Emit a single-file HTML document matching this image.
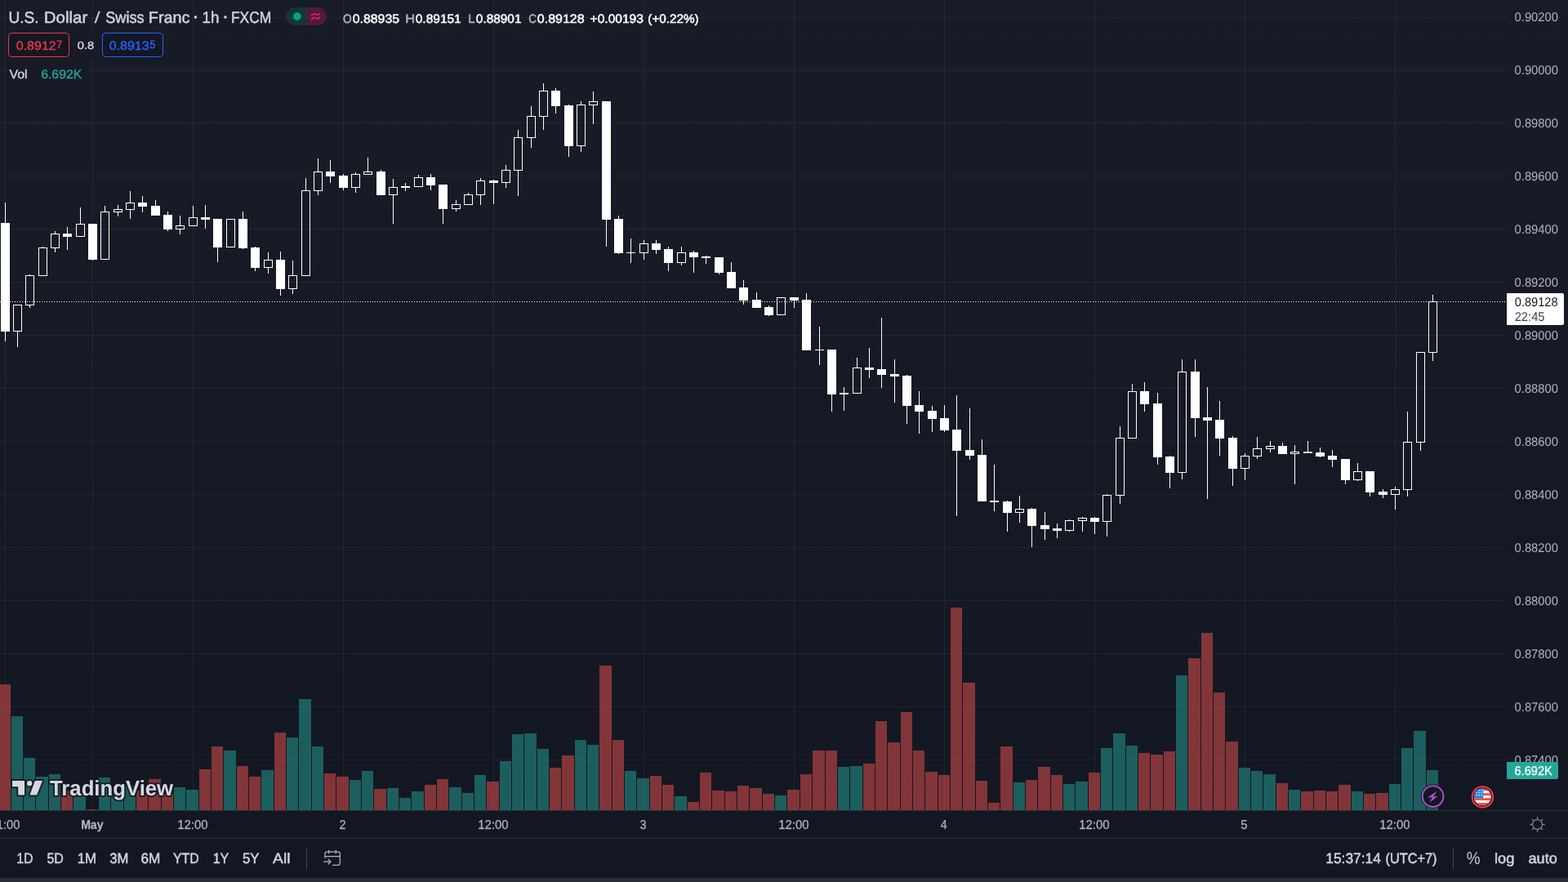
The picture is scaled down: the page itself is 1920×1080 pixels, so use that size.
<!DOCTYPE html>
<html lang="en"><head><meta charset="utf-8"><title>USDCHF 1h chart</title>
<style>
html,body{margin:0;padding:0;background:#131722;overflow:hidden}
body{width:1920px;height:1080px;font-family:'Liberation Sans', Arial, sans-serif}
svg{display:block;position:absolute;left:0;top:0}
text{font-family:'Liberation Sans', Arial, sans-serif;white-space:pre;text-rendering:geometricPrecision}
</style></head><body>
<svg width="1920" height="1080" viewBox="0 0 1920 1080">
<defs>
<linearGradient id="bg" x1="0" y1="0" x2="0" y2="1"><stop offset="0" stop-color="#181c27"/><stop offset="1" stop-color="#131722"/></linearGradient>
<clipPath id="flagclip"><circle cx="1815.4" cy="975.9" r="10.4"/></clipPath>
</defs>
<rect x="0" y="0" width="1920" height="1080" fill="#131722"/>
<rect x="0" y="0" width="1920" height="992" fill="url(#bg)"/>

<g shape-rendering="crispEdges" fill="rgb(240,243,250)" fill-opacity="0.06">
<rect x="6" y="0" width="1" height="992"/>
<rect x="113" y="0" width="1" height="992"/>
<rect x="236" y="0" width="1" height="992"/>
<rect x="420" y="0" width="1" height="992"/>
<rect x="604" y="0" width="1" height="992"/>
<rect x="788" y="0" width="1" height="992"/>
<rect x="972" y="0" width="1" height="992"/>
<rect x="1156" y="0" width="1" height="992"/>
<rect x="1340" y="0" width="1" height="992"/>
<rect x="1524" y="0" width="1" height="992"/>
<rect x="1708" y="0" width="1" height="992"/>
<rect x="0" y="21" width="1845" height="1"/>
<rect x="0" y="86" width="1845" height="1"/>
<rect x="0" y="150" width="1845" height="1"/>
<rect x="0" y="215" width="1845" height="1"/>
<rect x="0" y="280" width="1845" height="1"/>
<rect x="0" y="345" width="1845" height="1"/>
<rect x="0" y="410" width="1845" height="1"/>
<rect x="0" y="475" width="1845" height="1"/>
<rect x="0" y="540" width="1845" height="1"/>
<rect x="0" y="605" width="1845" height="1"/>
<rect x="0" y="670" width="1845" height="1"/>
<rect x="0" y="735" width="1845" height="1"/>
<rect x="0" y="800" width="1845" height="1"/>
<rect x="0" y="865" width="1845" height="1"/>
<rect x="0" y="930" width="1845" height="1"/>
</g>
<g shape-rendering="crispEdges" fill-opacity="0.5">
<rect x="0" y="838" width="13" height="154" fill="#ef5350"/>
<rect x="14" y="877" width="14" height="115" fill="#26a69a"/>
<rect x="29" y="928" width="14" height="64" fill="#26a69a"/>
<rect x="44" y="951" width="15" height="41" fill="#26a69a"/>
<rect x="60" y="948" width="14" height="44" fill="#26a69a"/>
<rect x="75" y="968" width="14" height="24" fill="#ef5350"/>
<rect x="90" y="974" width="15" height="18" fill="#26a69a"/>
<rect x="106" y="991" width="14" height="1" fill="#ef5350"/>
<rect x="121" y="952" width="14" height="40" fill="#26a69a"/>
<rect x="136" y="971" width="15" height="21" fill="#26a69a"/>
<rect x="152" y="962" width="14" height="30" fill="#26a69a"/>
<rect x="167" y="968" width="14" height="24" fill="#ef5350"/>
<rect x="182" y="954" width="15" height="38" fill="#ef5350"/>
<rect x="198" y="971" width="14" height="21" fill="#ef5350"/>
<rect x="213" y="964" width="14" height="28" fill="#26a69a"/>
<rect x="228" y="967" width="15" height="25" fill="#26a69a"/>
<rect x="244" y="942" width="14" height="50" fill="#ef5350"/>
<rect x="259" y="914" width="14" height="78" fill="#ef5350"/>
<rect x="274" y="919" width="15" height="73" fill="#26a69a"/>
<rect x="290" y="938" width="14" height="54" fill="#ef5350"/>
<rect x="305" y="951" width="14" height="41" fill="#ef5350"/>
<rect x="320" y="943" width="15" height="49" fill="#26a69a"/>
<rect x="336" y="897" width="14" height="95" fill="#ef5350"/>
<rect x="351" y="903" width="14" height="89" fill="#26a69a"/>
<rect x="366" y="856" width="15" height="136" fill="#26a69a"/>
<rect x="382" y="914" width="14" height="78" fill="#26a69a"/>
<rect x="397" y="947" width="14" height="45" fill="#ef5350"/>
<rect x="412" y="951" width="15" height="41" fill="#ef5350"/>
<rect x="428" y="955" width="14" height="37" fill="#26a69a"/>
<rect x="443" y="944" width="14" height="48" fill="#26a69a"/>
<rect x="458" y="966" width="15" height="26" fill="#ef5350"/>
<rect x="474" y="965" width="14" height="27" fill="#26a69a"/>
<rect x="489" y="977" width="14" height="15" fill="#26a69a"/>
<rect x="504" y="969" width="15" height="23" fill="#26a69a"/>
<rect x="520" y="961" width="14" height="31" fill="#ef5350"/>
<rect x="535" y="954" width="14" height="38" fill="#ef5350"/>
<rect x="550" y="964" width="15" height="28" fill="#26a69a"/>
<rect x="566" y="971" width="14" height="21" fill="#26a69a"/>
<rect x="581" y="949" width="14" height="43" fill="#26a69a"/>
<rect x="596" y="957" width="15" height="35" fill="#ef5350"/>
<rect x="612" y="932" width="14" height="60" fill="#26a69a"/>
<rect x="627" y="899" width="14" height="93" fill="#26a69a"/>
<rect x="642" y="898" width="15" height="94" fill="#26a69a"/>
<rect x="658" y="917" width="14" height="75" fill="#26a69a"/>
<rect x="673" y="940" width="14" height="52" fill="#ef5350"/>
<rect x="688" y="925" width="15" height="67" fill="#ef5350"/>
<rect x="704" y="906" width="14" height="86" fill="#26a69a"/>
<rect x="719" y="912" width="14" height="80" fill="#26a69a"/>
<rect x="734" y="815" width="15" height="177" fill="#ef5350"/>
<rect x="750" y="906" width="14" height="86" fill="#ef5350"/>
<rect x="765" y="944" width="14" height="48" fill="#26a69a"/>
<rect x="780" y="953" width="15" height="39" fill="#26a69a"/>
<rect x="796" y="950" width="14" height="42" fill="#ef5350"/>
<rect x="811" y="961" width="14" height="31" fill="#ef5350"/>
<rect x="826" y="975" width="15" height="17" fill="#26a69a"/>
<rect x="842" y="982" width="14" height="10" fill="#ef5350"/>
<rect x="857" y="946" width="14" height="46" fill="#ef5350"/>
<rect x="872" y="968" width="15" height="24" fill="#ef5350"/>
<rect x="888" y="969" width="14" height="23" fill="#ef5350"/>
<rect x="903" y="962" width="14" height="30" fill="#ef5350"/>
<rect x="918" y="965" width="15" height="27" fill="#ef5350"/>
<rect x="934" y="972" width="14" height="20" fill="#ef5350"/>
<rect x="949" y="974" width="14" height="18" fill="#26a69a"/>
<rect x="964" y="967" width="15" height="25" fill="#ef5350"/>
<rect x="980" y="948" width="14" height="44" fill="#ef5350"/>
<rect x="995" y="919" width="15" height="73" fill="#ef5350"/>
<rect x="1011" y="919" width="14" height="73" fill="#ef5350"/>
<rect x="1026" y="939" width="14" height="53" fill="#26a69a"/>
<rect x="1041" y="938" width="15" height="54" fill="#26a69a"/>
<rect x="1057" y="935" width="14" height="57" fill="#ef5350"/>
<rect x="1072" y="883" width="14" height="109" fill="#ef5350"/>
<rect x="1087" y="909" width="15" height="83" fill="#ef5350"/>
<rect x="1103" y="872" width="14" height="120" fill="#ef5350"/>
<rect x="1118" y="919" width="14" height="73" fill="#ef5350"/>
<rect x="1133" y="945" width="15" height="47" fill="#ef5350"/>
<rect x="1149" y="949" width="14" height="43" fill="#ef5350"/>
<rect x="1164" y="744" width="14" height="248" fill="#ef5350"/>
<rect x="1179" y="836" width="15" height="156" fill="#ef5350"/>
<rect x="1195" y="956" width="14" height="36" fill="#ef5350"/>
<rect x="1210" y="983" width="14" height="9" fill="#ef5350"/>
<rect x="1225" y="914" width="15" height="78" fill="#ef5350"/>
<rect x="1241" y="958" width="14" height="34" fill="#26a69a"/>
<rect x="1256" y="955" width="14" height="37" fill="#ef5350"/>
<rect x="1271" y="939" width="15" height="53" fill="#ef5350"/>
<rect x="1287" y="949" width="14" height="43" fill="#ef5350"/>
<rect x="1302" y="960" width="14" height="32" fill="#26a69a"/>
<rect x="1317" y="957" width="15" height="35" fill="#26a69a"/>
<rect x="1333" y="946" width="14" height="46" fill="#ef5350"/>
<rect x="1348" y="916" width="14" height="76" fill="#26a69a"/>
<rect x="1363" y="898" width="15" height="94" fill="#26a69a"/>
<rect x="1379" y="913" width="14" height="79" fill="#26a69a"/>
<rect x="1394" y="922" width="14" height="70" fill="#ef5350"/>
<rect x="1409" y="924" width="15" height="68" fill="#ef5350"/>
<rect x="1425" y="920" width="14" height="72" fill="#ef5350"/>
<rect x="1440" y="827" width="14" height="165" fill="#26a69a"/>
<rect x="1455" y="806" width="15" height="186" fill="#ef5350"/>
<rect x="1471" y="775" width="14" height="217" fill="#ef5350"/>
<rect x="1486" y="848" width="14" height="144" fill="#ef5350"/>
<rect x="1501" y="908" width="15" height="84" fill="#ef5350"/>
<rect x="1517" y="940" width="14" height="52" fill="#26a69a"/>
<rect x="1532" y="944" width="14" height="48" fill="#26a69a"/>
<rect x="1547" y="948" width="15" height="44" fill="#26a69a"/>
<rect x="1563" y="959" width="14" height="33" fill="#ef5350"/>
<rect x="1578" y="967" width="14" height="25" fill="#26a69a"/>
<rect x="1593" y="969" width="15" height="23" fill="#ef5350"/>
<rect x="1609" y="968" width="14" height="24" fill="#ef5350"/>
<rect x="1624" y="969" width="14" height="23" fill="#ef5350"/>
<rect x="1639" y="961" width="15" height="31" fill="#ef5350"/>
<rect x="1655" y="969" width="14" height="23" fill="#26a69a"/>
<rect x="1670" y="972" width="14" height="20" fill="#ef5350"/>
<rect x="1685" y="971" width="15" height="21" fill="#ef5350"/>
<rect x="1701" y="960" width="14" height="32" fill="#26a69a"/>
<rect x="1716" y="916" width="14" height="76" fill="#26a69a"/>
<rect x="1731" y="895" width="15" height="97" fill="#26a69a"/>
<rect x="1747" y="943" width="14" height="49" fill="#26a69a"/>
</g>
<line x1="0" y1="369.5" x2="1845" y2="369.5" stroke="#ffffff" stroke-width="1" stroke-dasharray="1 2" shape-rendering="crispEdges"/>
<g shape-rendering="crispEdges" fill="#ffffff">
<rect x="6" y="248" width="1" height="25"/>
<rect x="6" y="406" width="1" height="12"/>
<rect x="1" y="273" width="11" height="133"/>
<rect x="21" y="406" width="1" height="19"/>
<path d="M16 373h11v33h-11zM17 374v31h9v-31z" fill-rule="evenodd"/>
<rect x="36" y="336" width="1" height="1"/>
<rect x="36" y="374" width="1" height="3"/>
<path d="M31 337h11v37h-11zM32 338v35h9v-35z" fill-rule="evenodd"/>
<rect x="52" y="302" width="1" height="1"/>
<path d="M47 303h11v35h-11zM48 304v33h9v-33z" fill-rule="evenodd"/>
<rect x="67" y="283" width="1" height="3"/>
<rect x="67" y="304" width="1" height="5"/>
<path d="M62 286h11v18h-11zM63 287v16h9v-16z" fill-rule="evenodd"/>
<rect x="82" y="278" width="1" height="8"/>
<rect x="82" y="290" width="1" height="16"/>
<rect x="77" y="286" width="11" height="4"/>
<rect x="98" y="254" width="1" height="20"/>
<path d="M93 274h11v16h-11zM94 275v14h9v-14z" fill-rule="evenodd"/>
<rect x="113" y="318" width="1" height="1"/>
<rect x="108" y="274" width="11" height="44"/>
<rect x="128" y="252" width="1" height="7"/>
<path d="M123 259h11v59h-11zM124 260v57h9v-57z" fill-rule="evenodd"/>
<rect x="144" y="251" width="1" height="5"/>
<rect x="144" y="260" width="1" height="5"/>
<path d="M139 256h11v4h-11zM140 257v2h9v-2z" fill-rule="evenodd"/>
<rect x="159" y="234" width="1" height="14"/>
<rect x="159" y="257" width="1" height="11"/>
<path d="M154 248h11v9h-11zM155 249v7h9v-7z" fill-rule="evenodd"/>
<rect x="174" y="240" width="1" height="8"/>
<rect x="174" y="253" width="1" height="7"/>
<rect x="169" y="248" width="11" height="5"/>
<rect x="190" y="245" width="1" height="7"/>
<rect x="185" y="252" width="11" height="12"/>
<rect x="205" y="259" width="1" height="4"/>
<rect x="205" y="281" width="1" height="2"/>
<rect x="200" y="263" width="11" height="18"/>
<rect x="220" y="264" width="1" height="12"/>
<rect x="220" y="281" width="1" height="6"/>
<path d="M215 276h11v5h-11zM216 277v3h9v-3z" fill-rule="evenodd"/>
<rect x="236" y="252" width="1" height="14"/>
<path d="M231 266h11v11h-11zM232 267v9h9v-9z" fill-rule="evenodd"/>
<rect x="251" y="251" width="1" height="15"/>
<rect x="251" y="269" width="1" height="11"/>
<rect x="246" y="266" width="11" height="3"/>
<rect x="266" y="303" width="1" height="18"/>
<rect x="261" y="268" width="11" height="35"/>
<path d="M277 268h11v35h-11zM278 269v33h9v-33z" fill-rule="evenodd"/>
<rect x="297" y="259" width="1" height="9"/>
<rect x="297" y="304" width="1" height="1"/>
<rect x="292" y="268" width="11" height="36"/>
<rect x="312" y="302" width="1" height="1"/>
<rect x="312" y="328" width="1" height="4"/>
<rect x="307" y="303" width="11" height="25"/>
<rect x="328" y="309" width="1" height="9"/>
<rect x="328" y="328" width="1" height="7"/>
<path d="M323 318h11v10h-11zM324 319v8h9v-8z" fill-rule="evenodd"/>
<rect x="343" y="308" width="1" height="10"/>
<rect x="343" y="354" width="1" height="8"/>
<rect x="338" y="318" width="11" height="36"/>
<rect x="358" y="319" width="1" height="18"/>
<rect x="358" y="354" width="1" height="6"/>
<path d="M353 337h11v17h-11zM354 338v15h9v-15z" fill-rule="evenodd"/>
<rect x="374" y="218" width="1" height="15"/>
<path d="M369 233h11v105h-11zM370 234v103h9v-103z" fill-rule="evenodd"/>
<rect x="389" y="194" width="1" height="16"/>
<rect x="389" y="234" width="1" height="5"/>
<path d="M384 210h11v24h-11zM385 211v22h9v-22z" fill-rule="evenodd"/>
<rect x="404" y="196" width="1" height="14"/>
<rect x="404" y="216" width="1" height="8"/>
<rect x="399" y="210" width="11" height="6"/>
<rect x="420" y="213" width="1" height="2"/>
<rect x="420" y="230" width="1" height="3"/>
<rect x="415" y="215" width="11" height="15"/>
<rect x="435" y="211" width="1" height="2"/>
<rect x="435" y="230" width="1" height="6"/>
<path d="M430 213h11v17h-11zM431 214v15h9v-15z" fill-rule="evenodd"/>
<rect x="450" y="193" width="1" height="17"/>
<path d="M445 210h11v4h-11zM446 211v2h9v-2z" fill-rule="evenodd"/>
<rect x="466" y="208" width="1" height="2"/>
<rect x="461" y="210" width="11" height="29"/>
<rect x="481" y="219" width="1" height="10"/>
<rect x="481" y="239" width="1" height="35"/>
<path d="M476 229h11v10h-11zM477 230v8h9v-8z" fill-rule="evenodd"/>
<rect x="496" y="224" width="1" height="4"/>
<rect x="496" y="230" width="1" height="4"/>
<rect x="491" y="228" width="11" height="2"/>
<rect x="512" y="214" width="1" height="3"/>
<path d="M507 217h11v12h-11zM508 218v10h9v-10z" fill-rule="evenodd"/>
<rect x="527" y="213" width="1" height="4"/>
<rect x="527" y="227" width="1" height="6"/>
<rect x="522" y="217" width="11" height="10"/>
<rect x="542" y="256" width="1" height="18"/>
<rect x="537" y="226" width="11" height="30"/>
<rect x="558" y="245" width="1" height="5"/>
<rect x="558" y="256" width="1" height="3"/>
<path d="M553 250h11v6h-11zM554 251v4h9v-4z" fill-rule="evenodd"/>
<rect x="573" y="236" width="1" height="2"/>
<path d="M568 238h11v13h-11zM569 239v11h9v-11z" fill-rule="evenodd"/>
<rect x="588" y="218" width="1" height="3"/>
<rect x="588" y="239" width="1" height="12"/>
<path d="M583 221h11v18h-11zM584 222v16h9v-16z" fill-rule="evenodd"/>
<rect x="604" y="220" width="1" height="1"/>
<rect x="604" y="224" width="1" height="26"/>
<rect x="599" y="221" width="11" height="3"/>
<rect x="619" y="202" width="1" height="6"/>
<rect x="619" y="224" width="1" height="6"/>
<path d="M614 208h11v16h-11zM615 209v14h9v-14z" fill-rule="evenodd"/>
<rect x="634" y="159" width="1" height="9"/>
<rect x="634" y="209" width="1" height="31"/>
<path d="M629 168h11v41h-11zM630 169v39h9v-39z" fill-rule="evenodd"/>
<rect x="650" y="130" width="1" height="12"/>
<rect x="650" y="169" width="1" height="12"/>
<path d="M645 142h11v27h-11zM646 143v25h9v-25z" fill-rule="evenodd"/>
<rect x="665" y="102" width="1" height="9"/>
<rect x="665" y="143" width="1" height="16"/>
<path d="M660 111h11v32h-11zM661 112v30h9v-30z" fill-rule="evenodd"/>
<rect x="680" y="108" width="1" height="3"/>
<rect x="680" y="130" width="1" height="9"/>
<rect x="675" y="111" width="11" height="19"/>
<rect x="696" y="128" width="1" height="1"/>
<rect x="696" y="179" width="1" height="13"/>
<rect x="691" y="129" width="11" height="50"/>
<rect x="711" y="124" width="1" height="4"/>
<rect x="711" y="179" width="1" height="7"/>
<path d="M706 128h11v51h-11zM707 129v49h9v-49z" fill-rule="evenodd"/>
<rect x="726" y="112" width="1" height="12"/>
<rect x="726" y="129" width="1" height="23"/>
<path d="M721 124h11v5h-11zM722 125v3h9v-3z" fill-rule="evenodd"/>
<rect x="742" y="269" width="1" height="33"/>
<rect x="737" y="124" width="11" height="145"/>
<rect x="757" y="264" width="1" height="4"/>
<rect x="757" y="310" width="1" height="1"/>
<rect x="752" y="268" width="11" height="42"/>
<rect x="772" y="292" width="1" height="17"/>
<rect x="772" y="310" width="1" height="12"/>
<rect x="767" y="309" width="11" height="1"/>
<rect x="788" y="294" width="1" height="4"/>
<rect x="788" y="310" width="1" height="8"/>
<path d="M783 298h11v12h-11zM784 299v10h9v-10z" fill-rule="evenodd"/>
<rect x="803" y="294" width="1" height="4"/>
<rect x="803" y="306" width="1" height="5"/>
<rect x="798" y="298" width="11" height="8"/>
<rect x="818" y="302" width="1" height="3"/>
<rect x="818" y="322" width="1" height="10"/>
<rect x="813" y="305" width="11" height="17"/>
<rect x="834" y="302" width="1" height="7"/>
<rect x="834" y="322" width="1" height="3"/>
<path d="M829 309h11v13h-11zM830 310v11h9v-11z" fill-rule="evenodd"/>
<rect x="849" y="307" width="1" height="2"/>
<rect x="849" y="315" width="1" height="19"/>
<rect x="844" y="309" width="11" height="6"/>
<rect x="864" y="313" width="1" height="1"/>
<rect x="864" y="316" width="1" height="7"/>
<rect x="859" y="314" width="11" height="2"/>
<rect x="880" y="334" width="1" height="2"/>
<rect x="875" y="315" width="11" height="19"/>
<rect x="895" y="321" width="1" height="12"/>
<rect x="890" y="333" width="11" height="20"/>
<rect x="910" y="343" width="1" height="9"/>
<rect x="910" y="368" width="1" height="5"/>
<rect x="905" y="352" width="11" height="16"/>
<rect x="926" y="358" width="1" height="9"/>
<rect x="921" y="367" width="11" height="10"/>
<rect x="941" y="374" width="1" height="2"/>
<rect x="941" y="386" width="1" height="1"/>
<rect x="936" y="376" width="11" height="10"/>
<path d="M951 364h11v22h-11zM952 365v20h9v-20z" fill-rule="evenodd"/>
<rect x="972" y="368" width="1" height="9"/>
<rect x="967" y="364" width="11" height="4"/>
<rect x="987" y="359" width="1" height="8"/>
<rect x="982" y="367" width="11" height="62"/>
<rect x="1003" y="400" width="1" height="28"/>
<rect x="1003" y="429" width="1" height="18"/>
<rect x="998" y="428" width="11" height="1"/>
<rect x="1018" y="483" width="1" height="21"/>
<rect x="1013" y="428" width="11" height="55"/>
<rect x="1033" y="474" width="1" height="7"/>
<rect x="1033" y="483" width="1" height="20"/>
<rect x="1028" y="481" width="11" height="2"/>
<rect x="1049" y="438" width="1" height="12"/>
<path d="M1044 450h11v32h-11zM1045 451v30h9v-30z" fill-rule="evenodd"/>
<rect x="1064" y="426" width="1" height="24"/>
<rect x="1064" y="453" width="1" height="10"/>
<rect x="1059" y="450" width="11" height="3"/>
<rect x="1079" y="389" width="1" height="63"/>
<rect x="1079" y="459" width="1" height="16"/>
<rect x="1074" y="452" width="11" height="7"/>
<rect x="1095" y="440" width="1" height="18"/>
<rect x="1095" y="461" width="1" height="32"/>
<rect x="1090" y="458" width="11" height="3"/>
<rect x="1110" y="459" width="1" height="1"/>
<rect x="1110" y="497" width="1" height="22"/>
<rect x="1105" y="460" width="11" height="37"/>
<rect x="1125" y="479" width="1" height="17"/>
<rect x="1125" y="504" width="1" height="27"/>
<rect x="1120" y="496" width="11" height="8"/>
<rect x="1141" y="497" width="1" height="6"/>
<rect x="1141" y="513" width="1" height="16"/>
<rect x="1136" y="503" width="11" height="10"/>
<rect x="1156" y="496" width="1" height="16"/>
<rect x="1156" y="527" width="1" height="2"/>
<rect x="1151" y="512" width="11" height="15"/>
<rect x="1171" y="484" width="1" height="42"/>
<rect x="1171" y="552" width="1" height="80"/>
<rect x="1166" y="526" width="11" height="26"/>
<rect x="1187" y="500" width="1" height="51"/>
<rect x="1187" y="558" width="1" height="5"/>
<rect x="1182" y="551" width="11" height="7"/>
<rect x="1202" y="538" width="1" height="19"/>
<rect x="1197" y="557" width="11" height="57"/>
<rect x="1217" y="569" width="1" height="44"/>
<rect x="1217" y="615" width="1" height="11"/>
<rect x="1212" y="613" width="11" height="2"/>
<rect x="1233" y="613" width="1" height="1"/>
<rect x="1233" y="628" width="1" height="23"/>
<rect x="1228" y="614" width="11" height="14"/>
<rect x="1248" y="607" width="1" height="16"/>
<rect x="1248" y="628" width="1" height="12"/>
<path d="M1243 623h11v5h-11zM1244 624v3h9v-3z" fill-rule="evenodd"/>
<rect x="1263" y="622" width="1" height="1"/>
<rect x="1263" y="644" width="1" height="26"/>
<rect x="1258" y="623" width="11" height="21"/>
<rect x="1279" y="627" width="1" height="16"/>
<rect x="1279" y="648" width="1" height="13"/>
<rect x="1274" y="643" width="11" height="5"/>
<rect x="1294" y="641" width="1" height="6"/>
<rect x="1294" y="650" width="1" height="9"/>
<rect x="1289" y="647" width="11" height="3"/>
<rect x="1309" y="636" width="1" height="1"/>
<rect x="1309" y="650" width="1" height="1"/>
<path d="M1304 637h11v13h-11zM1305 638v11h9v-11z" fill-rule="evenodd"/>
<rect x="1325" y="633" width="1" height="1"/>
<rect x="1325" y="638" width="1" height="13"/>
<path d="M1320 634h11v4h-11zM1321 635v2h9v-2z" fill-rule="evenodd"/>
<rect x="1340" y="633" width="1" height="1"/>
<rect x="1340" y="639" width="1" height="15"/>
<rect x="1335" y="634" width="11" height="5"/>
<rect x="1355" y="605" width="1" height="1"/>
<rect x="1355" y="639" width="1" height="18"/>
<path d="M1350 606h11v33h-11zM1351 607v31h9v-31z" fill-rule="evenodd"/>
<rect x="1371" y="522" width="1" height="14"/>
<rect x="1371" y="607" width="1" height="10"/>
<path d="M1366 536h11v71h-11zM1367 537v69h9v-69z" fill-rule="evenodd"/>
<rect x="1386" y="470" width="1" height="9"/>
<path d="M1381 479h11v58h-11zM1382 480v56h9v-56z" fill-rule="evenodd"/>
<rect x="1401" y="468" width="1" height="11"/>
<rect x="1401" y="495" width="1" height="9"/>
<rect x="1396" y="479" width="11" height="16"/>
<rect x="1417" y="481" width="1" height="13"/>
<rect x="1417" y="560" width="1" height="9"/>
<rect x="1412" y="494" width="11" height="66"/>
<rect x="1432" y="558" width="1" height="1"/>
<rect x="1432" y="579" width="1" height="19"/>
<rect x="1427" y="559" width="11" height="20"/>
<rect x="1447" y="440" width="1" height="15"/>
<rect x="1447" y="579" width="1" height="8"/>
<path d="M1442 455h11v124h-11zM1443 456v122h9v-122z" fill-rule="evenodd"/>
<rect x="1463" y="440" width="1" height="15"/>
<rect x="1463" y="512" width="1" height="23"/>
<rect x="1458" y="455" width="11" height="57"/>
<rect x="1478" y="474" width="1" height="37"/>
<rect x="1478" y="515" width="1" height="96"/>
<rect x="1473" y="511" width="11" height="4"/>
<rect x="1493" y="491" width="1" height="23"/>
<rect x="1493" y="537" width="1" height="21"/>
<rect x="1488" y="514" width="11" height="23"/>
<rect x="1509" y="534" width="1" height="2"/>
<rect x="1509" y="574" width="1" height="21"/>
<rect x="1504" y="536" width="11" height="38"/>
<rect x="1524" y="555" width="1" height="3"/>
<rect x="1524" y="574" width="1" height="14"/>
<path d="M1519 558h11v16h-11zM1520 559v14h9v-14z" fill-rule="evenodd"/>
<rect x="1539" y="535" width="1" height="14"/>
<rect x="1539" y="559" width="1" height="3"/>
<path d="M1534 549h11v10h-11zM1535 550v8h9v-8z" fill-rule="evenodd"/>
<rect x="1555" y="540" width="1" height="6"/>
<rect x="1555" y="550" width="1" height="4"/>
<path d="M1550 546h11v4h-11zM1551 547v2h9v-2z" fill-rule="evenodd"/>
<rect x="1570" y="542" width="1" height="4"/>
<rect x="1565" y="546" width="11" height="10"/>
<rect x="1585" y="545" width="1" height="8"/>
<rect x="1585" y="556" width="1" height="37"/>
<path d="M1580 553h11v3h-11zM1581 554v1h9v-1z" fill-rule="evenodd"/>
<rect x="1601" y="540" width="1" height="13"/>
<rect x="1596" y="553" width="11" height="2"/>
<rect x="1616" y="548" width="1" height="6"/>
<rect x="1616" y="559" width="1" height="1"/>
<rect x="1611" y="554" width="11" height="5"/>
<rect x="1631" y="551" width="1" height="7"/>
<rect x="1631" y="563" width="1" height="9"/>
<rect x="1626" y="558" width="11" height="5"/>
<rect x="1647" y="588" width="1" height="5"/>
<rect x="1642" y="562" width="11" height="26"/>
<rect x="1662" y="567" width="1" height="10"/>
<rect x="1662" y="588" width="1" height="1"/>
<path d="M1657 577h11v11h-11zM1658 578v9h9v-9z" fill-rule="evenodd"/>
<rect x="1677" y="603" width="1" height="5"/>
<rect x="1672" y="577" width="11" height="26"/>
<rect x="1693" y="599" width="1" height="3"/>
<rect x="1693" y="606" width="1" height="4"/>
<rect x="1688" y="602" width="11" height="4"/>
<rect x="1708" y="596" width="1" height="3"/>
<rect x="1708" y="606" width="1" height="18"/>
<path d="M1703 599h11v7h-11zM1704 600v5h9v-5z" fill-rule="evenodd"/>
<rect x="1723" y="504" width="1" height="37"/>
<rect x="1723" y="600" width="1" height="8"/>
<path d="M1718 541h11v59h-11zM1719 542v57h9v-57z" fill-rule="evenodd"/>
<rect x="1739" y="542" width="1" height="10"/>
<path d="M1734 431h11v111h-11zM1735 432v109h9v-109z" fill-rule="evenodd"/>
<rect x="1754" y="361" width="1" height="8"/>
<rect x="1754" y="432" width="1" height="10"/>
<path d="M1749 369h11v63h-11zM1750 370v61h9v-61z" fill-rule="evenodd"/>
</g>
<rect x="0" y="992" width="1920" height="88" fill="#131722"/>
<rect x="0" y="992" width="1920" height="1" fill="#2a2e39" shape-rendering="crispEdges"/>
<rect x="0" y="1026" width="1920" height="1" fill="#2a2e39" shape-rendering="crispEdges"/>
<rect x="1845" y="992" width="1" height="1" fill="#131722" shape-rendering="crispEdges"/>
<rect x="0" y="1075" width="1920" height="5" fill="#2a2e39" shape-rendering="crispEdges"/>
<text x="1854.60" y="26" font-size="15.5" fill="#b2b5be" textLength="53.31" lengthAdjust="spacingAndGlyphs">0.90200</text>
<text x="1854.60" y="91" font-size="15.5" fill="#b2b5be" textLength="53.31" lengthAdjust="spacingAndGlyphs">0.90000</text>
<text x="1854.60" y="156" font-size="15.5" fill="#b2b5be" textLength="53.31" lengthAdjust="spacingAndGlyphs">0.89800</text>
<text x="1854.60" y="221" font-size="15.5" fill="#b2b5be" textLength="53.31" lengthAdjust="spacingAndGlyphs">0.89600</text>
<text x="1854.60" y="286" font-size="15.5" fill="#b2b5be" textLength="53.31" lengthAdjust="spacingAndGlyphs">0.89400</text>
<text x="1854.60" y="351" font-size="15.5" fill="#b2b5be" textLength="53.31" lengthAdjust="spacingAndGlyphs">0.89200</text>
<text x="1854.60" y="416" font-size="15.5" fill="#b2b5be" textLength="53.31" lengthAdjust="spacingAndGlyphs">0.89000</text>
<text x="1854.60" y="481" font-size="15.5" fill="#b2b5be" textLength="53.31" lengthAdjust="spacingAndGlyphs">0.88800</text>
<text x="1854.60" y="546" font-size="15.5" fill="#b2b5be" textLength="53.31" lengthAdjust="spacingAndGlyphs">0.88600</text>
<text x="1854.60" y="611" font-size="15.5" fill="#b2b5be" textLength="53.31" lengthAdjust="spacingAndGlyphs">0.88400</text>
<text x="1854.60" y="676" font-size="15.5" fill="#b2b5be" textLength="53.31" lengthAdjust="spacingAndGlyphs">0.88200</text>
<text x="1854.60" y="741" font-size="15.5" fill="#b2b5be" textLength="53.31" lengthAdjust="spacingAndGlyphs">0.88000</text>
<text x="1854.60" y="806" font-size="15.5" fill="#b2b5be" textLength="53.31" lengthAdjust="spacingAndGlyphs">0.87800</text>
<text x="1854.60" y="871" font-size="15.5" fill="#b2b5be" textLength="53.31" lengthAdjust="spacingAndGlyphs">0.87600</text>
<text x="1854.60" y="936" font-size="15.5" fill="#b2b5be" textLength="53.31" lengthAdjust="spacingAndGlyphs">0.87400</text>
<path d="M1845 933h61a2 2 0 0 1 2 2v17a2 2 0 0 1-2 2h-61z" fill="#26a69a"/>
<text x="1854.62" y="949" font-size="15.5" fill="#ffffff" textLength="46.09" lengthAdjust="spacingAndGlyphs" stroke="#ffffff" stroke-width="0.3">6.692K</text>
<path d="M1845 359h68a2 2 0 0 1 2 2v35a2 2 0 0 1-2 2h-68z" fill="#ffffff"/>
<text x="1854.81" y="375" font-size="15.5" fill="#131722" textLength="52.76" lengthAdjust="spacingAndGlyphs">0.89128</text>
<text x="1854.66" y="393" font-size="15.5" fill="#131722" textLength="36.88" lengthAdjust="spacingAndGlyphs" fill-opacity="0.85">22:45</text>
<text x="-12.49" y="1015" font-size="15.5" fill="#b2b5be" textLength="37.07" lengthAdjust="spacingAndGlyphs" stroke="#b2b5be" stroke-width="0.25">21:00</text>
<text x="99.14" y="1015" font-size="15.5" fill="#b2b5be" textLength="27.41" lengthAdjust="spacingAndGlyphs" font-weight="bold" stroke="#b2b5be" stroke-width="0.25">May</text>
<text x="217.21" y="1015" font-size="15.5" fill="#b2b5be" textLength="37.25" lengthAdjust="spacingAndGlyphs" stroke="#b2b5be" stroke-width="0.25">12:00</text>
<text x="415.55" y="1015" font-size="15.5" fill="#b2b5be" textLength="8.02" lengthAdjust="spacingAndGlyphs" stroke="#b2b5be" stroke-width="0.25">2</text>
<text x="585.21" y="1015" font-size="15.5" fill="#b2b5be" textLength="37.25" lengthAdjust="spacingAndGlyphs" stroke="#b2b5be" stroke-width="0.25">12:00</text>
<text x="783.55" y="1015" font-size="15.5" fill="#b2b5be" textLength="8.02" lengthAdjust="spacingAndGlyphs" stroke="#b2b5be" stroke-width="0.25">3</text>
<text x="953.21" y="1015" font-size="15.5" fill="#b2b5be" textLength="37.25" lengthAdjust="spacingAndGlyphs" stroke="#b2b5be" stroke-width="0.25">12:00</text>
<text x="1151.86" y="1015" font-size="15.5" fill="#b2b5be" textLength="8.00" lengthAdjust="spacingAndGlyphs" stroke="#b2b5be" stroke-width="0.25">4</text>
<text x="1321.21" y="1015" font-size="15.5" fill="#b2b5be" textLength="37.25" lengthAdjust="spacingAndGlyphs" stroke="#b2b5be" stroke-width="0.25">12:00</text>
<text x="1519.27" y="1015" font-size="15.5" fill="#b2b5be" textLength="8.27" lengthAdjust="spacingAndGlyphs" stroke="#b2b5be" stroke-width="0.25">5</text>
<text x="1689.21" y="1015" font-size="15.5" fill="#b2b5be" textLength="37.25" lengthAdjust="spacingAndGlyphs" stroke="#b2b5be" stroke-width="0.25">12:00</text>
<g stroke="#868993" stroke-width="1.2" fill="none"><circle cx="1882.5" cy="1009.5" r="6"/>
<line x1="1888.70" y1="1009.50" x2="1891.80" y2="1009.50"/>
<line x1="1886.88" y1="1013.88" x2="1889.08" y2="1016.08"/>
<line x1="1882.50" y1="1015.70" x2="1882.50" y2="1018.80"/>
<line x1="1878.12" y1="1013.88" x2="1875.92" y2="1016.08"/>
<line x1="1876.30" y1="1009.50" x2="1873.20" y2="1009.50"/>
<line x1="1878.12" y1="1005.12" x2="1875.92" y2="1002.92"/>
<line x1="1882.50" y1="1003.30" x2="1882.50" y2="1000.20"/>
<line x1="1886.88" y1="1005.12" x2="1889.08" y2="1002.92"/>
</g>
<text x="20.17" y="1057" font-size="17.75" fill="#d1d4dc" textLength="20.48" lengthAdjust="spacingAndGlyphs" stroke="#d1d4dc" stroke-width="0.5">1D</text>
<text x="57.46" y="1057" font-size="17.75" fill="#d1d4dc" textLength="20.43" lengthAdjust="spacingAndGlyphs" stroke="#d1d4dc" stroke-width="0.5">5D</text>
<text x="94.70" y="1057" font-size="17.75" fill="#d1d4dc" textLength="23.55" lengthAdjust="spacingAndGlyphs" stroke="#d1d4dc" stroke-width="0.5">1M</text>
<text x="134.16" y="1057" font-size="17.75" fill="#d1d4dc" textLength="23.16" lengthAdjust="spacingAndGlyphs" stroke="#d1d4dc" stroke-width="0.5">3M</text>
<text x="172.48" y="1057" font-size="17.75" fill="#d1d4dc" textLength="23.89" lengthAdjust="spacingAndGlyphs" stroke="#d1d4dc" stroke-width="0.5">6M</text>
<text x="211.94" y="1057" font-size="17.75" fill="#d1d4dc" textLength="31.61" lengthAdjust="spacingAndGlyphs" stroke="#d1d4dc" stroke-width="0.5">YTD</text>
<text x="260.66" y="1057" font-size="17.75" fill="#d1d4dc" textLength="19.70" lengthAdjust="spacingAndGlyphs" stroke="#d1d4dc" stroke-width="0.5">1Y</text>
<text x="297.06" y="1057" font-size="17.75" fill="#d1d4dc" textLength="20.48" lengthAdjust="spacingAndGlyphs" stroke="#d1d4dc" stroke-width="0.5">5Y</text>
<text x="334.13" y="1057" font-size="17.75" fill="#d1d4dc" textLength="21.29" lengthAdjust="spacingAndGlyphs" stroke="#d1d4dc" stroke-width="0.5">All</text>
<text x="1830.04" y="1057" font-size="17.75" fill="#d1d4dc" textLength="24.44" lengthAdjust="spacingAndGlyphs" stroke="#d1d4dc" stroke-width="0.5">log</text>
<text x="1871.50" y="1057" font-size="17.75" fill="#d1d4dc" textLength="35.26" lengthAdjust="spacingAndGlyphs" stroke="#d1d4dc" stroke-width="0.5">auto</text>
<text x="1795.69" y="1058" font-size="21.5" fill="#c1c4cd" textLength="16.81" lengthAdjust="spacingAndGlyphs">%</text>
<text><tspan x="1623.27" y="1057" font-size="17.75" fill="#d1d4dc" textLength="67.60" lengthAdjust="spacingAndGlyphs" stroke="#d1d4dc" stroke-width="0.5">15:37:14</tspan> <tspan x="1696.54" y="1057" font-size="17.75" fill="#d1d4dc" textLength="62.99" lengthAdjust="spacingAndGlyphs" stroke="#d1d4dc" stroke-width="0.5">(UTC+7)</tspan></text>
<rect x="375" y="1037" width="1" height="28" fill="#434651" shape-rendering="crispEdges"/>
<rect x="1779" y="1037" width="1" height="28" fill="#434651" shape-rendering="crispEdges"/>
<g stroke="#b2b5be" stroke-width="1.25" fill="none" stroke-linecap="round" stroke-linejoin="round"><path d="M398 1050.5v-5.2a2.2 2.2 0 0 1 2.2-2.2h13.9a2.2 2.2 0 0 1 2.2 2.2v11.8a2.2 2.2 0 0 1-2.2 2.2h-6.6"/><path d="M398 1048.6h18.3"/><path d="M402.6 1041.3v3.6"/><path d="M411.3 1041.3v3.6"/><path d="M396.5 1055.1h8.3"/><path d="M402 1052.2l3 2.9-3 2.9"/></g>
<text><tspan x="10.43" y="28" font-size="19.6" fill="#d1d4dc" textLength="37.17" lengthAdjust="spacingAndGlyphs" stroke="#d1d4dc" stroke-width="0.5">U.S.</tspan> <tspan x="53.74" y="28" font-size="19.6" fill="#d1d4dc" textLength="53.50" lengthAdjust="spacingAndGlyphs" stroke="#d1d4dc" stroke-width="0.5">Dollar</tspan> <tspan x="115.44" y="28" font-size="19.6" fill="#d1d4dc" textLength="7.19" lengthAdjust="spacingAndGlyphs">/</tspan> <tspan x="129.27" y="28" font-size="19.6" fill="#d1d4dc" textLength="47.25" lengthAdjust="spacingAndGlyphs" stroke="#d1d4dc" stroke-width="0.5">Swiss</tspan> <tspan x="181.79" y="28" font-size="19.6" fill="#d1d4dc" textLength="50.64" lengthAdjust="spacingAndGlyphs" stroke="#d1d4dc" stroke-width="0.5">Franc</tspan> <tspan x="236.47" y="28.3" font-size="21" fill="#d1d4dc" font-weight="bold">·</tspan> <tspan x="247.47" y="28" font-size="19.6" fill="#d1d4dc" textLength="20.85" lengthAdjust="spacingAndGlyphs" stroke="#d1d4dc" stroke-width="0.5">1h</tspan> <tspan x="272.97" y="28.3" font-size="21" fill="#d1d4dc" font-weight="bold">·</tspan> <tspan x="282.98" y="28" font-size="19.6" fill="#d1d4dc" textLength="49.39" lengthAdjust="spacingAndGlyphs" stroke="#d1d4dc" stroke-width="0.5">FXCM</tspan></text>
<text><tspan x="419.96" y="28" font-size="15" fill="#b2b5be" textLength="10.72" lengthAdjust="spacingAndGlyphs" stroke="#b2b5be" stroke-width="0.5">O</tspan><tspan x="431.66" y="28" font-size="15" fill="#fff" textLength="57.40" lengthAdjust="spacingAndGlyphs" stroke="#fff" stroke-width="0.5">0.88935</tspan> <tspan x="496.15" y="28" font-size="15" fill="#b2b5be" textLength="11.79" lengthAdjust="spacingAndGlyphs" stroke="#b2b5be" stroke-width="0.5">H</tspan><tspan x="508.77" y="28" font-size="15" fill="#fff" textLength="55.97" lengthAdjust="spacingAndGlyphs" stroke="#fff" stroke-width="0.5">0.89151</tspan> <tspan x="573.15" y="28" font-size="15" fill="#b2b5be" textLength="8.32" lengthAdjust="spacingAndGlyphs" stroke="#b2b5be" stroke-width="0.5">L</tspan><tspan x="582.88" y="28" font-size="15" fill="#fff" textLength="55.56" lengthAdjust="spacingAndGlyphs" stroke="#fff" stroke-width="0.5">0.88901</tspan> <tspan x="647.17" y="28" font-size="15" fill="#b2b5be" textLength="9.63" lengthAdjust="spacingAndGlyphs" stroke="#b2b5be" stroke-width="0.5">C</tspan><tspan x="657.85" y="28" font-size="15" fill="#fff" textLength="57.74" lengthAdjust="spacingAndGlyphs" stroke="#fff" stroke-width="0.5">0.89128</tspan> <tspan x="722.61" y="28" font-size="15" fill="#fff" textLength="65.21" lengthAdjust="spacingAndGlyphs" stroke="#fff" stroke-width="0.5">+0.00193</tspan> <tspan x="793.33" y="28" font-size="15" fill="#fff" textLength="62.38" lengthAdjust="spacingAndGlyphs" stroke="#fff" stroke-width="0.5">(+0.22%)</tspan></text>
<path d="M361 9h14v22h-14a11 11 0 0 1 0-22z" fill="rgb(8,153,129)" fill-opacity="0.2"/>
<path d="M375 9h14a11 11 0 0 1 0 22h-14z" fill="rgb(233,30,99)" fill-opacity="0.26"/>
<circle cx="363.8" cy="20.1" r="4.9" fill="#089f86"/>
<g stroke="#e0196a" stroke-width="1.9" fill="none" stroke-linecap="round"><path d="M381.7 18.9c1.2-2 2.6-2.4 4.3-1.5s3.4 1.6 5.2-0.9"/><path d="M381.7 23.7c1.2-2 2.6-2.4 4.3-1.5s3.4 1.6 5.2-0.9"/></g>
<rect x="7" y="39" width="196" height="32" fill="#181c27" fill-opacity="0.9"/>
<rect x="7" y="78" width="100" height="25" fill="#181c27" fill-opacity="0.9"/>
<rect x="10.5" y="40.5" width="74" height="29" rx="4" ry="4" fill="#131722" stroke="#f23645" stroke-width="1"/>
<rect x="125.5" y="40.5" width="74" height="29" rx="4" ry="4" fill="#131722" stroke="#2962ff" stroke-width="1"/>
<text><tspan x="19.75" y="61" font-size="15.0" fill="#f23645" textLength="49.05" lengthAdjust="spacingAndGlyphs" stroke="#f23645" stroke-width="0.35">0.8912</tspan><tspan x="69.05" y="59" font-size="13.6" fill="#f23645" textLength="7.43" lengthAdjust="spacingAndGlyphs" stroke="#f23645" stroke-width="0.35">7</tspan></text>
<text><tspan x="133.75" y="61" font-size="15.0" fill="#2962ff" textLength="48.84" lengthAdjust="spacingAndGlyphs" stroke="#2962ff" stroke-width="0.35">0.8913</tspan><tspan x="183.22" y="59" font-size="13.6" fill="#2962ff" textLength="7.14" lengthAdjust="spacingAndGlyphs" stroke="#2962ff" stroke-width="0.35">5</tspan></text>
<text x="94.81" y="60" font-size="13.0" fill="#d1d4dc" textLength="20.42" lengthAdjust="spacingAndGlyphs" stroke="#d1d4dc" stroke-width="0.35">0.8</text>
<text x="11.42" y="96" font-size="15.2" fill="#d1d4dc" textLength="22.27" lengthAdjust="spacingAndGlyphs" stroke="#d1d4dc" stroke-width="0.35">Vol</text>
<text x="50.15" y="96" font-size="15.2" fill="#26a69a" textLength="50.17" lengthAdjust="spacingAndGlyphs" stroke="#26a69a" stroke-width="0.35">6.692K</text>
<circle cx="1754.6" cy="975.2" r="14.6" fill="#131722"/>
<circle cx="1754.6" cy="975.2" r="12.8" fill="none" stroke="#b44fd0" stroke-width="1.9"/>
<path d="M1759.5 968.8L1748 976.8L1754 976.3L1750.3 982.7L1760.6 975L1755.3 975.4Z" fill="#b44fd0"/>
<circle cx="1815.4" cy="975.9" r="14.6" fill="#131722"/>
<g clip-path="url(#flagclip)">
<rect x="1804" y="964" width="23" height="23" fill="#ffffff"/>
<rect x="1804" y="965.30" width="23" height="2.95" fill="#ef5350"/>
<rect x="1804" y="971.20" width="23" height="2.95" fill="#ef5350"/>
<rect x="1804" y="977.10" width="23" height="2.95" fill="#ef5350"/>
<rect x="1804" y="983.00" width="23" height="2.95" fill="#ef5350"/>
<rect x="1804" y="964" width="12.3" height="13.2" fill="#1e88e5"/>
<circle cx="1808.2" cy="967.7" r="0.8" fill="#ffffff"/>
<circle cx="1811.2" cy="967.7" r="0.8" fill="#ffffff"/>
<circle cx="1814.2" cy="967.7" r="0.8" fill="#ffffff"/>
<circle cx="1808.2" cy="970.7" r="0.8" fill="#ffffff"/>
<circle cx="1811.2" cy="970.7" r="0.8" fill="#ffffff"/>
<circle cx="1814.2" cy="970.7" r="0.8" fill="#ffffff"/>
<circle cx="1808.2" cy="973.7" r="0.8" fill="#ffffff"/>
<circle cx="1811.2" cy="973.7" r="0.8" fill="#ffffff"/>
<circle cx="1814.2" cy="973.7" r="0.8" fill="#ffffff"/>
</g>
<circle cx="1815.4" cy="975.9" r="12.65" fill="none" stroke="#f23645" stroke-width="2.2"/>
<g fill="#d6d8e0" stroke="#131722" stroke-opacity="0.85" stroke-width="4" stroke-linejoin="round" paint-order="stroke">
<path d="M15 956h15v17.6h-7.8v-10.3h-7.2z"/>
<circle cx="36.2" cy="959.3" r="3.2"/>
<path d="M42.8 956h9.2l-6.9 17.6h-8.6z"/>
<text x="61.05" y="974" font-size="26" font-weight="bold" textLength="151.07" lengthAdjust="spacingAndGlyphs">TradingView</text>
</g>
</svg></body></html>
